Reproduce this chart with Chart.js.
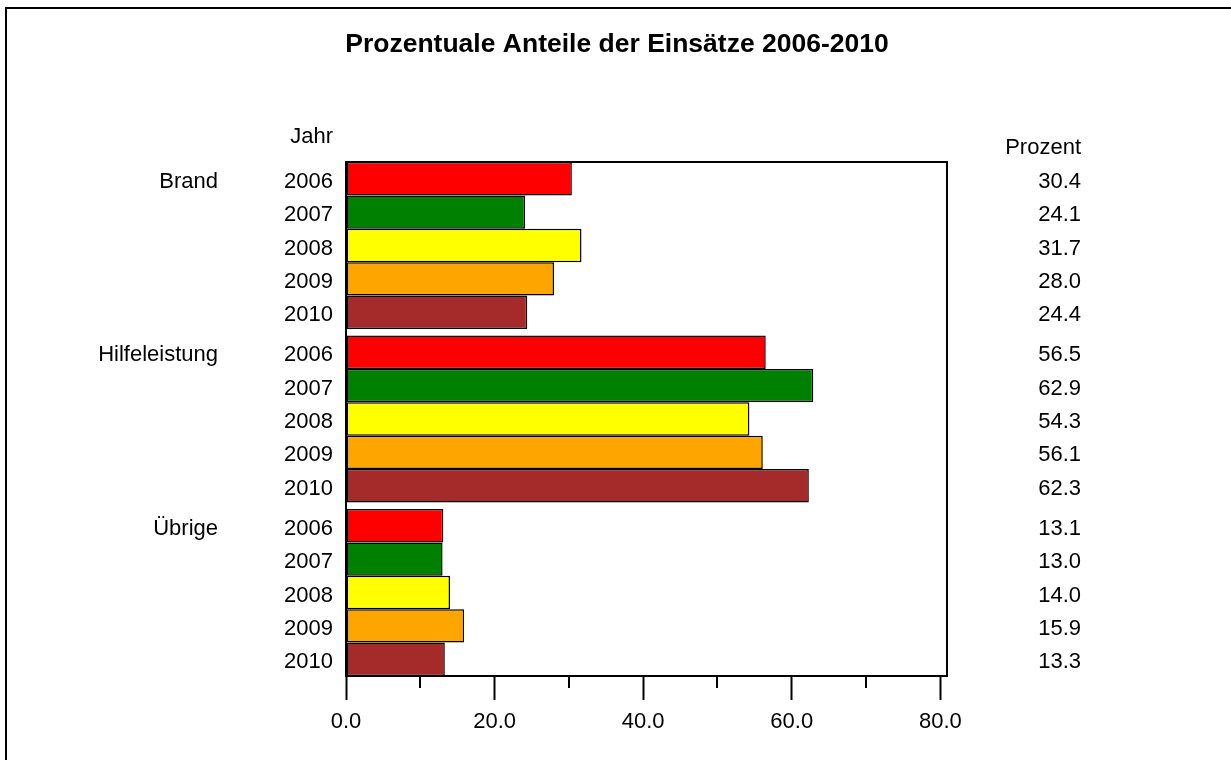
<!DOCTYPE html>
<html>
<head>
<meta charset="utf-8">
<script src="https://cdn.jsdelivr.net/npm/chart.js@4"></script>
<style>
  html, body { margin: 0; padding: 0; background: #fff; }
  #wrap { width: 1231px; height: 760px; }
</style>
</head>
<body>
<div id="wrap"><canvas id="grafik" width="1231" height="760"></canvas></div>
<script>
const titel = "Prozentuale Anteile der Einsätze 2006-2010";
const kategorien = ["Brand", "Hilfeleistung", "Übrige"];
const jahre = ["2006", "2007", "2008", "2009", "2010"];
const werte2006 = [30.4, 56.5, 13.1];
const werte2007 = [24.1, 62.9, 13.0];
const werte2008 = [31.7, 54.3, 14.0];
const werte2009 = [28.0, 56.1, 15.9];
const werte2010 = [24.4, 62.3, 13.3];
const farben = ["#ff0000", "#008000", "#ffff00", "#ffa500", "#a52a2a"];
const xTicks = [0, 20, 40, 60, 80];

const schrift = '"Liberation Sans", Arial, sans-serif';
const anteil = 0.9625; // Platz pro Gruppe

const alleWerte = [werte2006, werte2007, werte2008, werte2009, werte2010];

const datasets = alleWerte.map((werte, j) => ({
  label: jahre[j],
  data: werte.map((v, i) => ({ x: v, y: i })),
  backgroundColor: farben[j],
  borderColor: "#000",
  borderWidth: 1.5,
  borderSkipped: false,
  categoryPercentage: anteil,
  barPercentage: 1
}));

const beschriftung = {
  id: "beschriftung",
  afterDraw(chart) {
    const { ctx, chartArea, scales } = chart;
    ctx.save();
    ctx.strokeStyle = "#000";
    ctx.lineWidth = 2;

    // Rahmen oben und links
    ctx.beginPath();
    ctx.moveTo(6, 760);
    ctx.lineTo(6, 8);
    ctx.lineTo(1231, 8);
    ctx.stroke();

    // Diagrammkasten oben und rechts
    ctx.beginPath();
    ctx.moveTo(chartArea.left, chartArea.top);
    ctx.lineTo(chartArea.right, chartArea.top);
    ctx.lineTo(chartArea.right, chartArea.bottom);
    ctx.stroke();

    // kleine Striche zwischen den Beschriftungen
    scales.x.ticks.forEach(t => {
      if (xTicks.includes(t.value)) return;
      const px = Math.round(scales.x.getPixelForValue(t.value));
      ctx.beginPath();
      ctx.moveTo(px, chartArea.bottom);
      ctx.lineTo(px, chartArea.bottom + 12);
      ctx.stroke();
    });

    ctx.fillStyle = "#000";
    ctx.textBaseline = "middle";

    ctx.font = "bold 26.5px " + schrift;
    ctx.textAlign = "center";
    ctx.fillText(titel, 617, 45);

    ctx.font = "22px " + schrift;
    ctx.textAlign = "right";
    ctx.fillText("Jahr", 333, 137);
    ctx.fillText("Prozent", 1081, 148);

    chart.data.datasets.forEach((ds, j) => {
      chart.getDatasetMeta(j).data.forEach((bar, i) => {
        const y = bar.y + 3;
        ctx.fillText(jahre[j], 333, y);
        ctx.fillText(ds.data[i].x.toFixed(1), 1081, y);
        if (j === 0) ctx.fillText(kategorien[i], 218, y);
      });
    });
    ctx.restore();
  }
};

new Chart(document.getElementById("grafik"), {
  type: "bar",
  data: { datasets },
  options: {
    indexAxis: "y",
    responsive: false,
    animation: false,
    layout: { padding: { left: 346, top: 162, right: 284, bottom: 0 } },
    plugins: { legend: { display: false }, tooltip: { enabled: false } },
    scales: {
      y: {
        type: "linear",
        reverse: true,
        offset: false,
        min: -anteil / 2,
        max: kategorien.length - 1 + anteil / 2,
        afterBuildTicks: s => { s.ticks = kategorien.map((k, i) => ({ value: i })); },
        afterFit: s => { s.width = 0; },
        ticks: { display: false },
        grid: { display: false },
        border: { display: true, color: "#000", width: 2 }
      },
      x: {
        type: "linear",
        min: 0,
        max: 80.9,
        afterFit: s => { s.height = 84; },
        ticks: {
          stepSize: 10,
          includeBounds: false,
          maxRotation: 0,
          autoSkip: false,
          padding: 9,
          color: "#000",
          font: { family: schrift, size: 22 },
          callback: v => xTicks.includes(v) ? v.toFixed(1) : ""
        },
        grid: {
          drawOnChartArea: false,
          tickLength: 24,
          tickWidth: 2,
          tickColor: c => xTicks.includes(c.tick.value) ? "#000" : "rgba(0,0,0,0)"
        },
        border: { display: true, color: "#000", width: 2 }
      }
    }
  },
  plugins: [beschriftung]
});
</script>
</body>
</html>
